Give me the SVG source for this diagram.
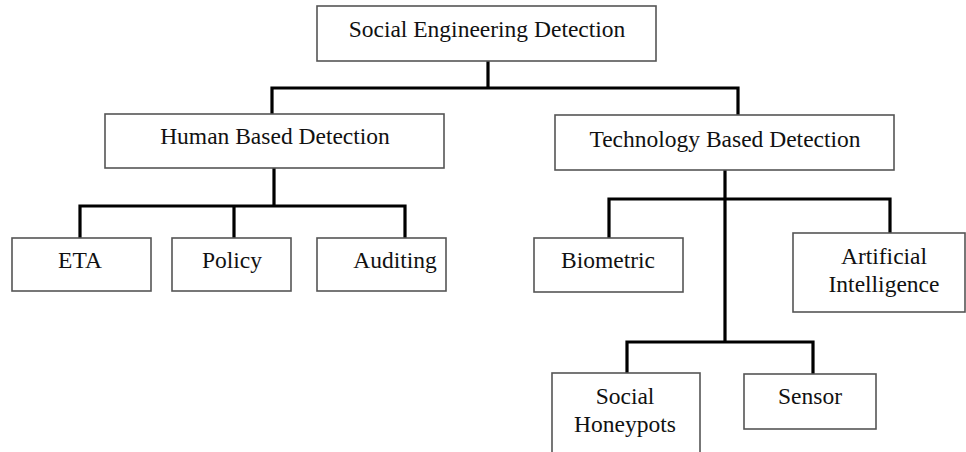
<svg xmlns="http://www.w3.org/2000/svg" width="966" height="452" viewBox="0 0 966 452">
<style>
.box{fill:#fff;stroke:#555;stroke-width:1.6}
.t{font-family:"Liberation Serif","Times New Roman",Tinos,serif;font-size:23.5px;fill:#111;text-anchor:middle}
.c{fill:none;stroke:#000;stroke-width:3.2;stroke-linejoin:miter}
</style>
<rect width="966" height="452" fill="#fff"/>
<g id="connectors">
<path class="c" d="M488 61V88M272 114V88H738V115"/>
<path class="c" d="M274 168V206M80 238V206H405V238M234 206V238"/>
<path class="c" d="M725 170V342M609 238V199H890V233"/>
<path class="c" d="M627 373V342H813V374"/>
</g>
<g id="root"><rect class="box" x="317" y="6" width="339" height="55"/><text class="t" x="487" y="37">Social Engineering Detection</text></g>
<g id="human"><rect class="box" x="105" y="114" width="339" height="54"/><text class="t" x="275" y="144">Human Based Detection</text></g>
<g id="tech"><rect class="box" x="555" y="115" width="339" height="55"/><text class="t" x="725" y="147">Technology Based Detection</text></g>
<g id="eta"><rect class="box" x="12" y="238" width="139" height="53"/><text class="t" x="80" y="268">ETA</text></g>
<g id="policy"><rect class="box" x="172" y="238" width="119" height="53"/><text class="t" x="232" y="268">Policy</text></g>
<g id="auditing"><rect class="box" x="317" y="238" width="129" height="53"/><text class="t" x="395" y="268">Auditing</text></g>
<g id="biometric"><rect class="box" x="534" y="238" width="149" height="54"/><text class="t" x="608" y="268">Biometric</text></g>
<g id="ai"><rect class="box" x="793" y="233" width="172" height="79"/><text class="t" x="884" y="264">Artificial</text><text class="t" x="884" y="292">Intelligence</text></g>
<g id="honeypots"><rect class="box" x="552" y="373" width="148" height="90"/><text class="t" x="625" y="404">Social</text><text class="t" x="625" y="432">Honeypots</text></g>
<g id="sensor"><rect class="box" x="744" y="374" width="132" height="55"/><text class="t" x="810" y="404">Sensor</text></g>
</svg>
